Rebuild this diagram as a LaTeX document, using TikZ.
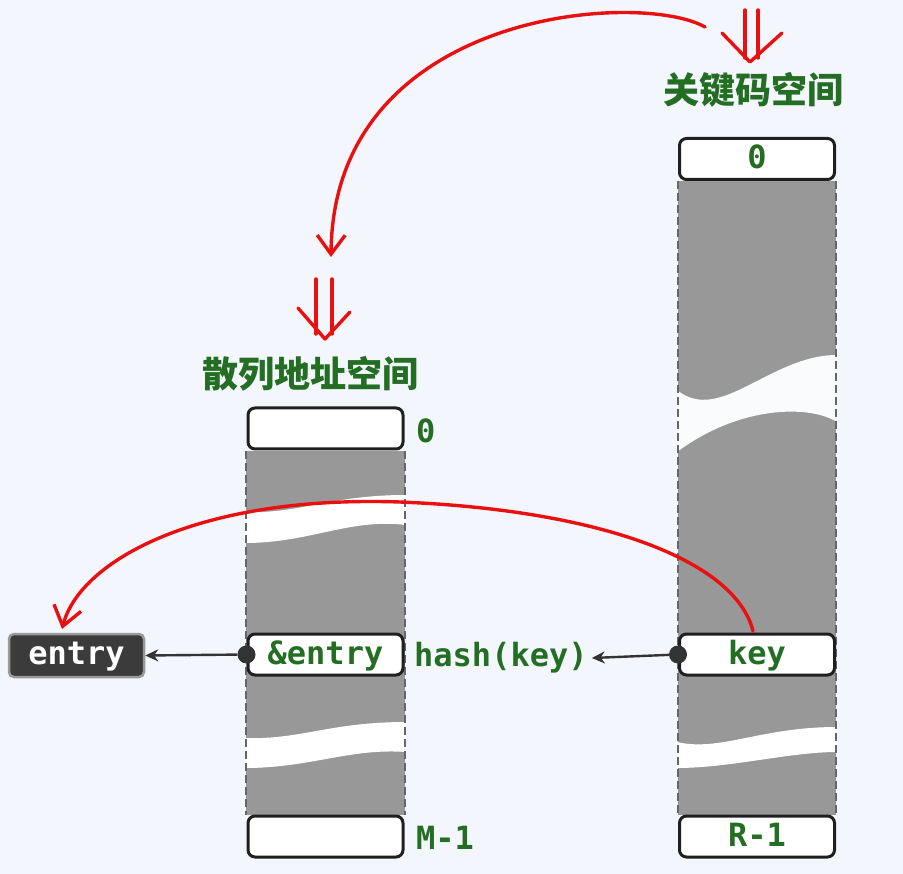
\documentclass[tikz,border=0pt]{standalone}
\usepackage{fontspec}
\setmonofont{DejaVu Sans Mono}
\newfontfamily\cjk{Noto Sans CJK SC}
\usetikzlibrary{arrows.meta}
\definecolor{bg}{RGB}{243,246,252}
\definecolor{txtgreen}{RGB}{36,110,36}
\definecolor{colgray}{RGB}{152,152,152}
\definecolor{gapc}{RGB}{250,251,253}
\definecolor{hand}{RGB}{232,16,16}
\tikzset{
  cell/.style={draw=black!88, line width=3pt, fill=white, rounded corners=7pt,
    minimum width=155pt, minimum height=41pt, inner sep=0pt, text depth=4pt,
    font=\ttfamily\bfseries\fontsize{32}{36}\selectfont, text=txtgreen},
  idx/.style={inner sep=0pt, anchor=west, text=txtgreen,
    font=\ttfamily\bfseries\fontsize{32}{36}\selectfont},
  title/.style={inner sep=0pt, text=txtgreen, font=\cjk\bfseries\fontsize{36}{40}\selectfont},
  dot/.style={circle, fill=black!80, minimum size=18pt, inner sep=0pt},
  conn/.style={line width=2.4pt, draw=black!80, -{Stealth[length=13pt,width=12pt]}},
  side/.style={draw=black!60, line width=1.8pt, dash pattern=on 8pt off 4pt},
  handarrow/.style={draw=hand, line width=3.4pt, line cap=round,
    -{Straight Barb[length=19pt,width=28pt,line width=3.4pt]}},
  handline/.style={draw=hand, line width=3.4pt, line cap=round, line join=round},
}
\begin{document}
\begin{tikzpicture}[x=1pt,y=-1pt]
\fill[bg] (0,0) rectangle (903,874);
\useasboundingbox (0,0) rectangle (903,874);

% gray columns
\fill[colgray] (246,451) rectangle (405,815);
\fill[colgray] (678,181) rectangle (836,815);

% wave gaps
\fill[white] (245,512) .. controls (300,514) and (330,495) .. (406,495)
  -- (406,525) .. controls (350,518) and (310,543) .. (245,543) -- cycle;
\fill[white] (245,738) .. controls (300,740) and (330,722) .. (406,722)
  -- (406,752) .. controls (350,748) and (310,768) .. (245,768) -- cycle;
\fill[gapc] (677,390) .. controls (720,425) and (770,355) .. (837,355)
  -- (837,422) .. controls (810,405) and (740,405) .. (677,452) -- cycle;
\fill[white] (677,742) .. controls (720,752) and (760,727) .. (837,727)
  -- (837,752) .. controls (790,752) and (730,768) .. (677,768) -- cycle;

% dashed sides
\draw[side] (246,451) -- (246,815);
\draw[side] (405,451) -- (405,815);
\draw[side] (678,181) -- (678,815);
\draw[side] (836,181) -- (836,815);

% cells of the hash address space
\node[cell] (l0) at (325.5,428.5) {};
\node[cell] (l1) at (325.5,654.5) {\&entry};
\node[cell] (lm) at (325.5,836.5) {};
% cells of the key space
\node[cell] (r0) at (757,159) {0};
\node[cell] (rk) at (757,654.5) {key};
\node[cell] (rr) at (757,836.5) {R-1};

% index labels
\node[idx] (i0) at (416,431) {0};
\node[idx] (im) at (416,838) {M-1};
\node[idx, inner sep=4pt] (hash) at (410,658) {hash(key)};

% titles
\node[title] (tk) at (753,90) {关键码空间};
\node[title] (th) at (310,374) {散列地址空间};

% entry box
\node[draw=black!40, line width=2.5pt, fill=black!77, rounded corners=5pt,
  minimum width=135pt, minimum height=43pt, inner sep=0pt, text=white, text depth=4pt,
  font=\ttfamily\bfseries\fontsize{32}{36}\selectfont] (entry) at (76.5,655.5) {entry};

% dots and pointers
\node[dot] (d1) at (l1.west) {};
\node[dot] (d2) at (rk.west) {};
\draw[conn] (d1) -- (entry.east);
\draw[conn] (d2) -- (hash.east);

% red hand-drawn arrows
\coordinate (c1s) at (705,27);
\coordinate (c1e) at (331,257);
\draw[handarrow] (c1s) .. controls (640,-10) and (333,10) .. (c1e);
\coordinate (c2s) at (753,631);
\coordinate (c2m) at (400,502);
\coordinate (c2e) at (62,629);
\draw[handarrow] (c2s) .. controls (735,560) and (600,510) .. (c2m)
  .. controls (200,495) and (80,560) .. (c2e);

% double arrows
\draw[handline] (745,10) -- (745,58);
\draw[handline] (758,10) -- (758,58);
\draw[handline] (722,33) -- (750,62) -- (782,33);
\draw[handline] (316,279) -- (316,334);
\draw[handline] (332,279) -- (332,334);
\draw[handline] (298,308) -- (325,339) -- (350,312);
\end{tikzpicture}
\end{document}
